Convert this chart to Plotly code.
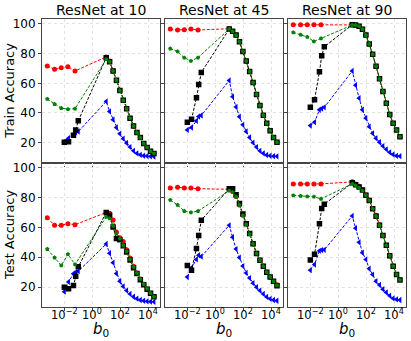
import math

import plotly.graph_objects as go

# b0 sweep positions
X_LEFT_RG = [6e-4, 2e-3, 6e-3, 1.8e-2, 5.8e-2]
X_LEFT_BB = [0.01, 0.02, 0.045, 0.065, 0.1]
X_RIGHT = [10, 17.5, 31, 54, 95, 166, 290, 510, 900, 1580, 2770, 4850, 8500, 14900, 26200]

TITLES = ["ResNet at 10", "ResNet at 45", "ResNet at 90"]
ROW_LABELS = ["Train Accuracy", "Test Accuracy"]
X_TICKS = [1e-2, 1, 1e2, 1e4]
X_TICKTEXT = ["10<sup>−2</sup>", "10<sup>0</sup>", "10<sup>2</sup>", "10<sup>4</sup>"]
Y_TICKS = [20, 40, 60, 80, 100]

# train accuracy, ResNet at 10
TR10_RED = [71.7, 69.4, 70.5, 71.2, 68.3, 77.8, 75, 68.5, 62, 55.2, 48.5, 42.8, 36.5, 31.3, 26.8, 23.4, 19.5, 16.8, 14.3, 12.7]
TR10_GREEN = [49.4, 46.0, 43.3, 42.6, 42.9, 76.2, 74.6, 68.3, 62.1, 55.1, 48.5, 42.9, 36.5, 31.3, 26.8, 23.4, 19.5, 16.8, 14.3, 12.7]
TR10_BLACK = [20.2, 20.6, 25, 28.6, 34.7, 77.3, 74.6, 68.3, 62.1, 55.1, 48.5, 42.9, 36.5, 31.3, 26.8, 23.4, 19.5, 16.8, 14.3, 12.7]
TR10_BLUE = [20.6, 23, 25.6, 27, 27.5, 47.8, 41, 35.5, 30.2, 26, 22.7, 19.8, 17, 14.5, 12.8, 11.8, 11.2, 11, 10.8, 10.7]

# train accuracy, ResNet at 45
TR45_RED = [96.6, 95.9, 96.1, 96.6, 95.9, 96.8, 95.0, 92.5, 88, 81.5, 75, 68, 60.5, 52.5, 45, 38.5, 33, 28, 23.5, 20.2]
TR45_GREEN = [83.4, 81.4, 77.3, 75.1, 77.3, 96.6, 95.0, 92.5, 88, 81.5, 75, 68, 60.5, 52.5, 45, 38.5, 33, 28, 23.5, 20.2]
TR45_BLACK = [33.8, 35.8, 50.3, 59.2, 67.3, 96.6, 95.0, 92.5, 88, 81.5, 75, 68, 60.5, 52.5, 45, 38.5, 33, 28, 23.5, 20.2]
TR45_BLUE = [28.6, 30.2, 34.7, 37.6, 38.3, 61.9, 51, 44, 37.5, 32, 27.5, 23.5, 20, 17, 14.5, 12.8, 11.7, 11.2, 10.9, 10.8]

# train accuracy, ResNet at 90
TR90_RED = [99.5, 99.5, 99.5, 99.5, 99.5, 99.5, 99.3, 98.5, 96.5, 92.5, 86.5, 79.5, 71.5, 63, 54.5, 46.5, 39, 33, 28.5, 24]
TR90_GREEN = [94.3, 92.7, 91.2, 88.2, 90.2, 99.3, 99.3, 98.5, 96.5, 92.5, 86.5, 79.5, 71.5, 63, 54.5, 46.5, 39, 33, 28.5, 24]
TR90_BLACK = [43.8, 49.0, 67.8, 78.5, 84.6, 99.5, 99.3, 98.5, 96.5, 92.5, 86.5, 79.5, 71.5, 63, 54.5, 46.5, 39, 33, 28.5, 24]
TR90_BLUE = [31.5, 33.8, 42.2, 42.9, 43.8, 68.3, 58.7, 50, 42.2, 36.5, 30.8, 26.3, 23.0, 20.3, 17.7, 15.5, 13.5, 12.0, 11.1, 10.9]

# test accuracy, ResNet at 10
TE10_RED = [66.4, 61.4, 61.4, 62.5, 61.8, 70, 69.5, 65, 57, 53, 50.5, 45, 39.5, 34, 29.5, 25.5, 22, 18.8, 16, 13.8]
TE10_GREEN = [45.5, 39.8, 34.5, 42.0, 35.2, 67, 66, 61, 56, 52.5, 48, 44, 38.5, 33.5, 29.5, 25.5, 22, 19, 16, 13.6]
TE10_BLACK = [20, 18.9, 21.1, 27.3, 33.6, 70, 68.2, 60.2, 52.5, 51.8, 47.7, 43.6, 38.2, 33.0, 29.1, 25.0, 21.6, 18.6, 15.9, 13.6]
TE10_BLUE = [17, 23.5, 29, 30, 30.7, 48.9, 42.7, 36.4, 29.1, 24, 20.5, 17.7, 15.5, 13.6, 12.3, 11.4, 10.9, 10.5, 10.3, 10.2]

# test accuracy, ResNet at 45
TE45_RED = [86.4, 86.8, 86.4, 86.4, 85.9, 85.5, 84.1, 80.7, 75, 68.2, 62.5, 55.7, 48.9, 42.7, 38.2, 34.1, 30, 26.8, 23.9, 21.6]
TE45_GREEN = [78.4, 75.0, 70.9, 70.0, 70.9, 84.5, 83.5, 80.5, 75, 68, 62, 55.5, 49, 42.5, 38, 34, 30, 26.8, 24, 21.2]
TE45_BLACK = [34.5, 31.4, 45.9, 54.5, 64.8, 85.9, 85.9, 81.8, 76, 69, 62.5, 56, 49, 42.5, 38, 34, 30, 26.8, 24, 21]
TE45_BLUE = [26.8, 33, 38.6, 41.4, 40.5, 61.4, 53.4, 45.5, 39.8, 34.1, 29.5, 26.1, 22.7, 20, 17.7, 15.5, 13.5, 12.2, 11.4, 10.9]

# test accuracy, ResNet at 90
TE90_RED = [89.1, 89.1, 89.1, 89.1, 89.1, 90.5, 89.1, 87.5, 85.2, 81.8, 78.4, 72.7, 68.2, 61.8, 54.5, 48.2, 40.9, 34.1, 28.5, 25]
TE90_GREEN = [81.4, 81, 80.7, 80.5, 79.1, 89.1, 88, 86.5, 84.5, 81.5, 78, 72.5, 67.5, 61.5, 54.5, 48, 41, 34, 28.5, 24.8]
TE90_BLACK = [38.2, 42.0, 62.5, 72.7, 75.5, 89.8, 88.5, 87, 85, 81.5, 78, 72.5, 67.5, 61.5, 54.5, 48, 41, 34, 28.5, 24.8]
TE90_BLUE = [31.4, 35.2, 44.3, 44.8, 45.0, 67.7, 59.5, 50, 43, 38.6, 32.3, 28.4, 24, 21.5, 18.6, 16.4, 14.3, 12.5, 11.8, 11.4]

PANELS = [
    [(TR10_RED, TR10_GREEN, TR10_BLACK, TR10_BLUE),
     (TR45_RED, TR45_GREEN, TR45_BLACK, TR45_BLUE),
     (TR90_RED, TR90_GREEN, TR90_BLACK, TR90_BLUE)],
    [(TE10_RED, TE10_GREEN, TE10_BLACK, TE10_BLUE),
     (TE45_RED, TE45_GREEN, TE45_BLACK, TE45_BLUE),
     (TE90_RED, TE90_GREEN, TE90_BLACK, TE90_BLUE)],
]

W, H = 411, 341
COL_PX = [(42, 160), (165, 283), (288, 406)]
ROW_PX = [(17, 161.5), (161.5, 307)]
FONT = "DejaVu Sans"

fig = go.Figure()


def line(x, y, color, symbol, size, ax):
    xa, ya = ax
    return go.Scatter(
        x=x, y=y, mode="lines+markers", xaxis=xa, yaxis=ya, showlegend=False,
        line=dict(color=color, width=1, dash="3px,1.6px"),
        marker=dict(color=color, symbol=symbol, size=size, line=dict(width=0)),
    )


layout = {}
annotations = []
for r in range(2):
    for c in range(3):
        i = r * 3 + c + 1
        sfx = "" if i == 1 else str(i)
        xa, ya = "x" + sfx, "y" + sfx
        red, green, black, blue = PANELS[r][c]
        xl = X_LEFT_RG + X_RIGHT
        xb = X_LEFT_BB + X_RIGHT
        fig.add_trace(line(xl, red, "#ff0000", "circle", 5, (xa, ya)))
        fig.add_trace(line(xb, blue, "#0000ff", "triangle-left", 5.5, (xa, ya)))
        fig.add_trace(line(xb, black, "#000000", "square", 5.5, (xa, ya)))
        fig.add_trace(line(xl, green, "#008000", "pentagon", 4.5, (xa, ya)))

        x0, x1 = COL_PX[c]
        y0, y1 = ROW_PX[r]
        common = dict(
            showline=True, mirror=True, linecolor="#444", linewidth=1,
            ticks="outside", ticklen=3, tickwidth=1, tickcolor="#444",
            showgrid=True, gridcolor="#e2e2e2", griddash="dot", gridwidth=1,
            zeroline=False, tickfont=dict(family=FONT, size=12, color="black"),
        )
        layout["xaxis" + sfx] = dict(
            common, type="log", range=[-3.6, 4.85], domain=[x0 / W, x1 / W],
            anchor=ya, tickvals=X_TICKS, showticklabels=False,
        )
        layout["yaxis" + sfx] = dict(
            common, range=[6.6, 103.4], domain=[1 - y1 / H, 1 - y0 / H],
            anchor=xa, tickvals=Y_TICKS, showticklabels=(c == 0),
        )
        # x tick labels placed on the axis scale, closer to the frame
        if r == 1:
            for tv, tt in zip(X_TICKS, X_TICKTEXT):
                annotations.append(dict(
                    text=tt, x=math.log10(tv), xref=xa, y=1 - 314 / H,
                    yref="paper", showarrow=False, xanchor="center",
                    yanchor="middle",
                    font=dict(family=FONT, size=11.5, color="black"),
                ))

for c, t in enumerate(TITLES):
    x0, x1 = COL_PX[c]
    annotations.append(dict(
        text=t, x=(x0 + x1) / 2 / W, y=1 - 8 / H, xref="paper", yref="paper",
        showarrow=False, xanchor="center", yanchor="middle",
        font=dict(family=FONT, size=14, color="black"),
    ))
    annotations.append(dict(
        text="<i>b</i><sub>0</sub>", x=(x0 + x1) / 2 / W, y=1 - 329 / H,
        xref="paper", yref="paper", showarrow=False, xanchor="center",
        yanchor="middle", font=dict(family=FONT, size=15, color="black"),
    ))
for r, t in enumerate(ROW_LABELS):
    y0, y1 = ROW_PX[r]
    annotations.append(dict(
        text=t, x=10 / W, y=1 - (y0 + y1) / 2 / H, xref="paper", yref="paper",
        showarrow=False, textangle=-90, xanchor="center", yanchor="middle",
        font=dict(family=FONT, size=13, color="black"),
    ))

fig.update_layout(
    width=W, height=H, autosize=False,
    margin=dict(l=0, r=0, t=0, b=0),
    paper_bgcolor="white", plot_bgcolor="white",
    annotations=annotations,
    **layout,
)

# drop the browser's default body margin so the figure sits at the window corner
fig.write_html(
    "out.html",
    config={"displayModeBar": False},
    post_script="document.body.style.margin='0';document.body.style.overflow='hidden';",
)
